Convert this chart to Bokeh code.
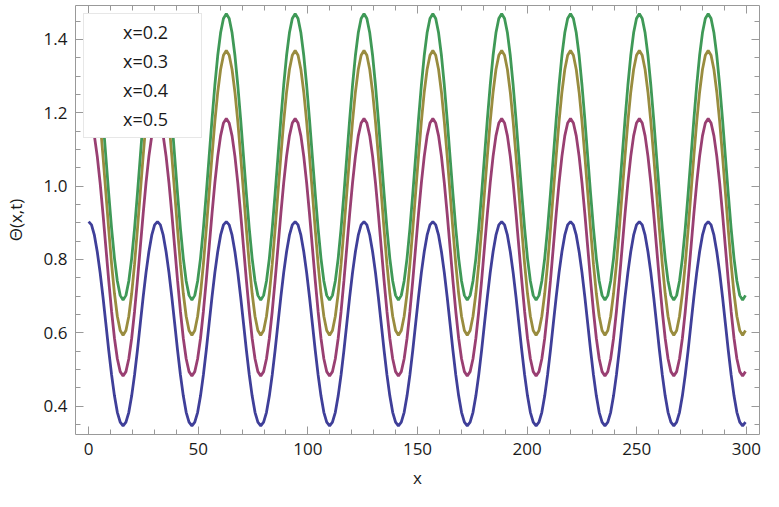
import numpy as np
from bokeh.plotting import figure
from bokeh.models import (LinearAxis, Legend, LegendItem, Range1d, FixedTicker,
                          CustomLabelingPolicy)
from bokeh.embed import file_html
from bokeh.resources import INLINE

# ---- data ----
legend_labels = ["x=0.2", "x=0.3", "x=0.4", "x=0.5"]
period = 31.4          # spacing of the peaks along t
t_end = 300
# one period of each curve, read at 24 equally spaced phases starting at a peak
blue_period = [0.903, 0.894, 0.866, 0.821, 0.764, 0.697, 0.625, 0.552, 0.485, 0.428, 0.383, 0.356,
               0.346, 0.356, 0.383, 0.428, 0.485, 0.552, 0.625, 0.697, 0.764, 0.821, 0.866, 0.894]
purple_period = [1.184, 1.172, 1.137, 1.081, 1.009, 0.924, 0.833, 0.742, 0.658, 0.585, 0.529, 0.494,
                 0.482, 0.494, 0.529, 0.585, 0.658, 0.742, 0.833, 0.924, 1.009, 1.081, 1.137, 1.172]
olive_period = [1.370, 1.357, 1.318, 1.256, 1.176, 1.082, 0.982, 0.881, 0.787, 0.707, 0.645, 0.606,
                0.593, 0.606, 0.645, 0.707, 0.787, 0.881, 0.982, 1.082, 1.176, 1.256, 1.318, 1.357]
green_period = [1.470, 1.457, 1.418, 1.356, 1.275, 1.181, 1.080, 0.979, 0.884, 0.803, 0.741, 0.702,
                0.689, 0.702, 0.741, 0.803, 0.884, 0.979, 1.080, 1.181, 1.275, 1.356, 1.418, 1.457]

x_ticks = [0, 50, 100, 150, 200, 250, 300]
x_minor = list(range(0, 301, 10))
y_ticks = [0.4, 0.6, 0.8, 1.0, 1.2, 1.4]
y_tick_labels = ["0.4", "0.6", "0.8", "1.0", "1.2", "1.4"]
y_minor = [round(0.35 + 0.05 * i, 2) for i in range(23)]

colors = ["#3f3f99", "#993f72", "#998c3f", "#3f9957"]
series = [blue_period, purple_period, olive_period, green_period]

# ---- build ----
n_per = len(blue_period)
step = period / n_per
n = int(t_end / step) + 1
t = np.arange(n) * step

FONT = "Open Sans"
GRAY = "#999999"
TXT = "#1a1a1a"

p = figure(width=763, height=491, output_backend="svg", toolbar_location=None,
           x_range=Range1d(-6, 306), y_range=Range1d(0.3225, 1.4925),
           min_border_left=70, min_border_right=1, min_border_top=5, min_border_bottom=54)
p.xgrid.visible = False
p.ygrid.visible = False
p.outline_line_color = GRAY
p.outline_line_width = 1
p.background_fill_color = "white"
p.border_fill_color = "white"

for vals, c in zip(series, colors):
    y = np.tile(np.array(vals), n // n_per + 1)[:n]
    p.line(t, y, line_color=c, line_width=2.8)

def style_axis(ax, labels=True):
    ax.axis_line_color = None
    ax.major_tick_line_color = GRAY
    ax.minor_tick_line_color = GRAY
    ax.major_tick_in = 8
    ax.major_tick_out = 0
    ax.minor_tick_in = 5
    ax.minor_tick_out = 0
    if labels:
        ax.major_label_text_font = FONT
        ax.major_label_text_font_size = "17px"
        ax.major_label_text_color = TXT
        ax.major_label_standoff = 8
        ax.axis_label_text_font = FONT
        ax.axis_label_text_font_size = "17px"
        ax.axis_label_text_font_style = "normal"
        ax.axis_label_text_color = TXT
    else:
        ax.major_label_text_font_size = "1px"
        ax.major_label_standoff = 0
        ax.major_label_policy = CustomLabelingPolicy(code="return new Set()")

p.xaxis.ticker = FixedTicker(ticks=x_ticks, minor_ticks=x_minor)
p.yaxis.ticker = FixedTicker(ticks=y_ticks, minor_ticks=y_minor)
p.yaxis.major_label_overrides = {v: s for v, s in zip(y_ticks, y_tick_labels)}
p.xaxis.axis_label = "x"
p.yaxis.axis_label = "Θ(x,t)"
style_axis(p.xaxis[0])
style_axis(p.yaxis[0])
p.xaxis.axis_label_standoff = 8
p.yaxis.axis_label_standoff = 14

top = LinearAxis(ticker=FixedTicker(ticks=x_ticks, minor_ticks=x_minor))
right = LinearAxis(ticker=FixedTicker(ticks=y_ticks, minor_ticks=y_minor))
style_axis(top, labels=False)
style_axis(right, labels=False)
p.add_layout(top, "above")
p.add_layout(right, "right")

# legend with very faint swatches
dummies = [p.line([], [], line_color="#ececec", line_width=1) for _ in legend_labels]
legend = Legend(items=[LegendItem(label=l, renderers=[r]) for l, r in zip(legend_labels, dummies)],
                location="top_left", margin=8, padding=4, spacing=1,
                glyph_width=15, glyph_height=28, label_height=28, label_width=74,
                label_standoff=20, label_text_font=FONT, label_text_font_size="18px",
                label_text_color=TXT, border_line_color="#cfcfcf", border_line_width=1,
                background_fill_color="white", background_fill_alpha=1.0)
p.add_layout(legend, "center")

open("out.html", "w").write(file_html(p, INLINE))
